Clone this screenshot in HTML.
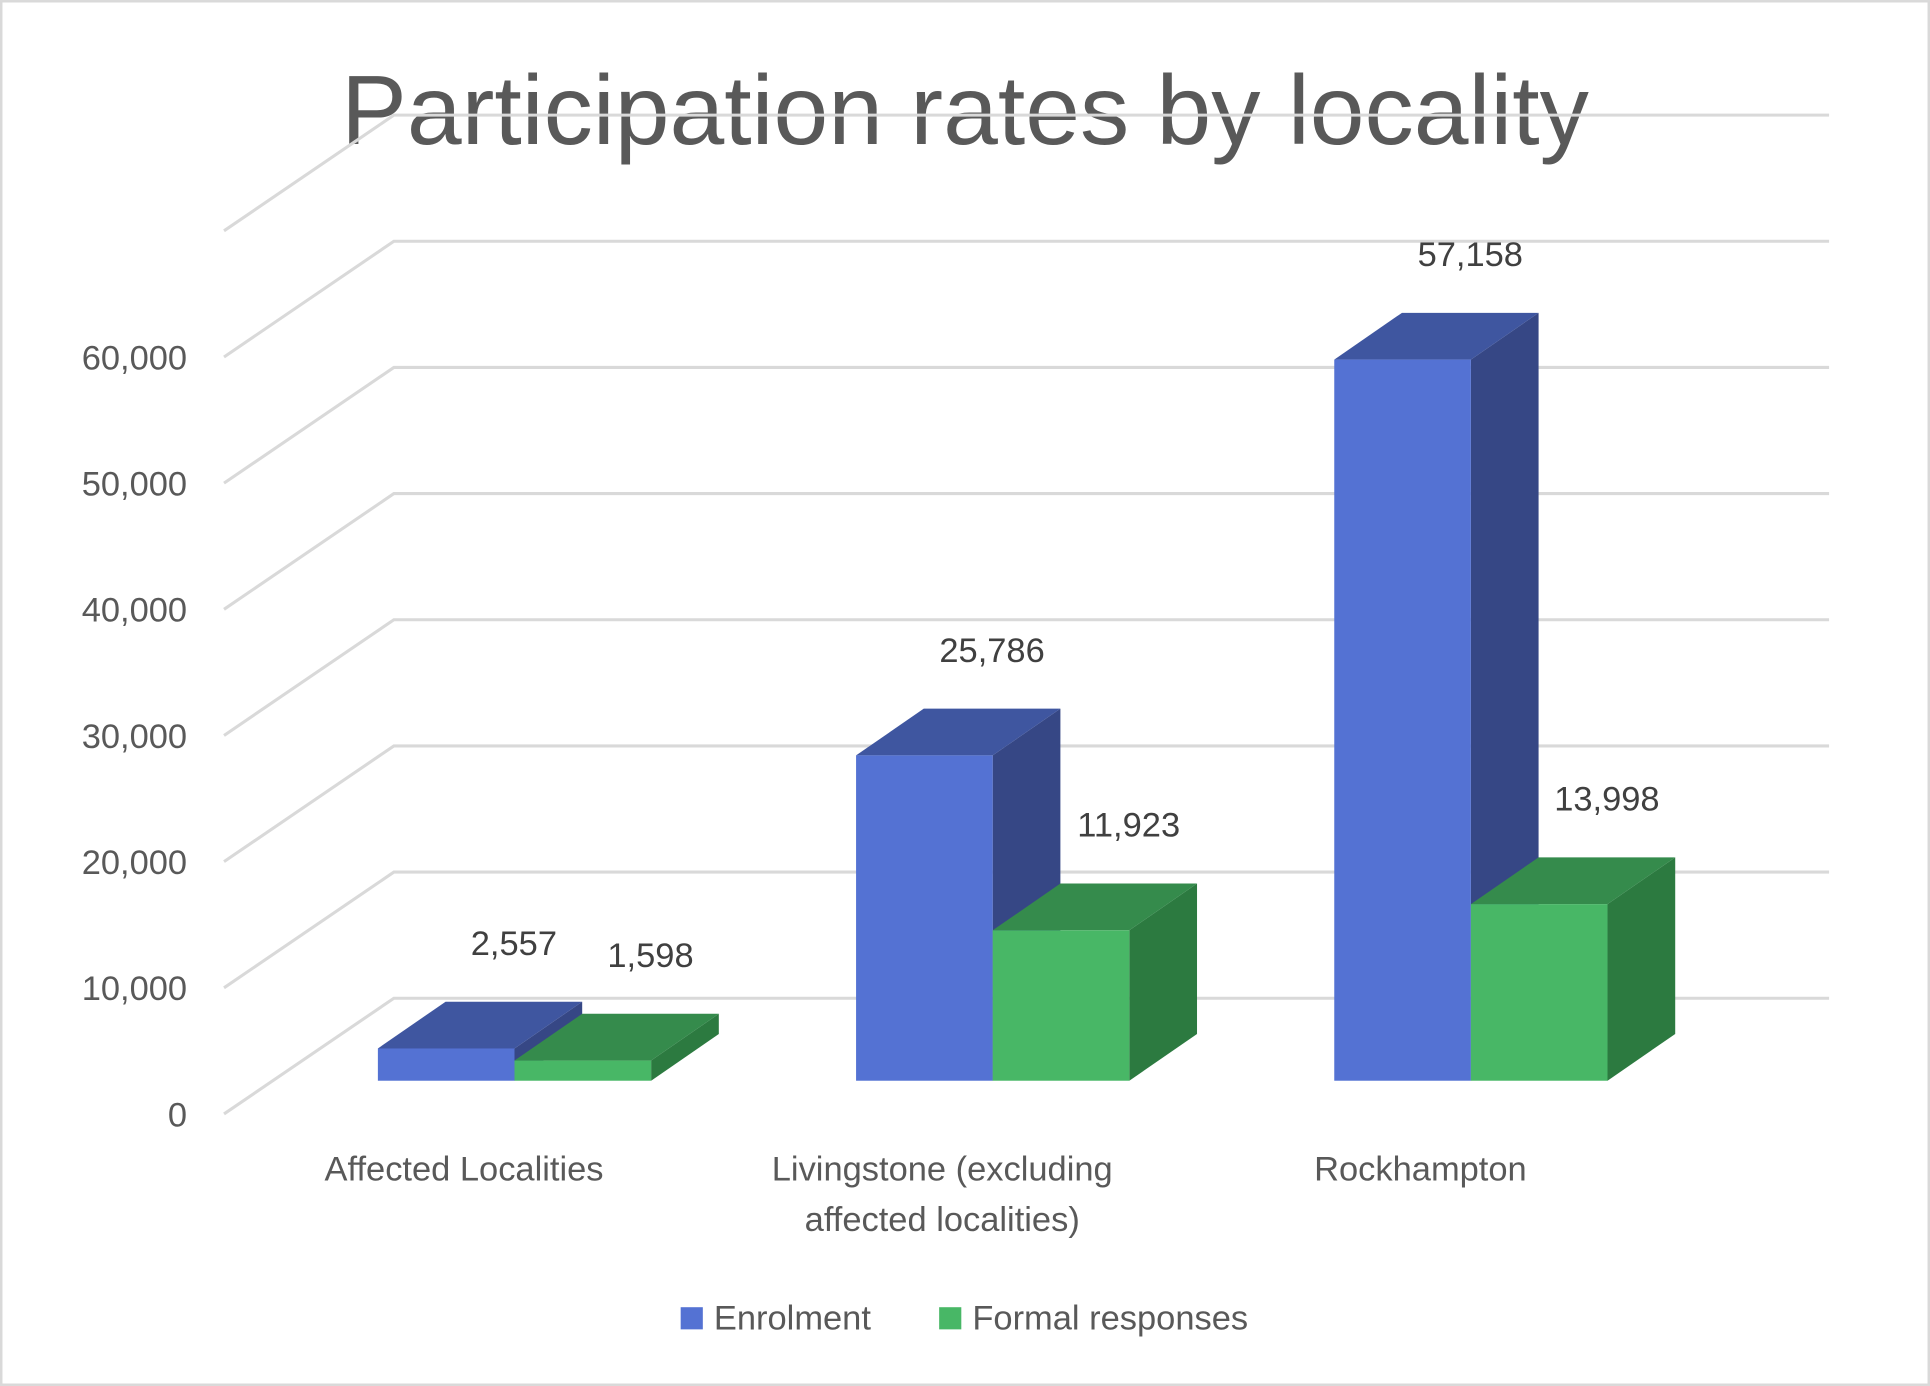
<!DOCTYPE html>
<html><head><meta charset="utf-8"><style>
html,body{margin:0;padding:0;background:#fff;}
svg{display:block;font-family:"Liberation Sans",sans-serif;}
</style></head><body>
<svg id="chart" width="1930" height="1386" viewBox="0 0 1568 1126" xmlns="http://www.w3.org/2000/svg">
<rect x="1" y="1" width="1566" height="1124" fill="#fff" stroke="#d9d9d9" stroke-width="2"/>
<text x="784" y="117" text-anchor="middle" font-size="80" fill="#595959">Participation rates by locality</text>
<g id="grid"></g><g id="bars"></g><g id="labels"></g>
<g>
<rect x="553" y="1062" width="18" height="18" fill="#5472D3"/>
<text x="580" y="1080" font-size="28" fill="#595959">Enrolment</text>
<rect x="763" y="1062" width="18" height="18" fill="#48B766"/>
<text x="790" y="1080" font-size="28" fill="#595959">Formal responses</text>
</g>
</svg>
<script>
const categories = [["Affected Localities"], ["Livingstone (excluding","affected localities)"], ["Rockhampton"]];
const enrolment = [2557, 25786, 57158];
const formal = [1598, 11923, 13998];
const yTicks = [0, 10000, 20000, 30000, 40000, 50000, 60000];
const yTickLabels = ["0","10,000","20,000","30,000","40,000","50,000","60,000"];

const NS="http://www.w3.org/2000/svg";
function mk(tag, attrs, parent){const e=document.createElementNS(NS,tag);for(const k in attrs)e.setAttribute(k,attrs[k]);parent.appendChild(e);return e;}
const grid=document.getElementById('grid'), bars=document.getElementById('bars'), labels=document.getElementById('labels');
const PX=10.25/1000;
const frontY0=905, backY0=811, backDX=138, backDY=-94;
function yFront(v){return frontY0 - v*PX;}
function yBar(v){return 878 - v*PX;}
const catX0=418, catStep=388.5, barW=111, dDX=55, dDY=-38;
function xCat(i){return catX0 + i*catStep;}

// grid
yTicks.concat([70000]).forEach((t,i)=>{
  if(t>60000) return;
  const yf=yFront(t), yb=backY0 - t*PX;
  const p=mk('polyline',{points:`182,${yf} 320,${yb} 1486,${yb}`,fill:'none',stroke:'#d9d9d9','stroke-width':2.5},grid);
  
  
});
// top gridline (70,000 unlabeled)
{const t=70000;const yf=yFront(t), yb=backY0-t*PX;
 const p=mk('polyline',{points:`182,${yf} 320,${yb} 1486,${yb}`,fill:'none',stroke:'#d9d9d9','stroke-width':2.5},grid);
 
 }
yTicks.forEach((t,i)=>{
  const tx=mk('text',{x:152,y:yFront(t)+10,'text-anchor':'end','font-size':28,fill:'#595959'},labels);
  tx.textContent=yTickLabels[i];
  
  
});

function bar(x, v, cols, name){
  const top=yBar(v), bot=878;
  const g=mk('g',{},bars);
  
  
  mk('polygon',{points:`${x+barW},${top} ${x+barW+dDX},${top+dDY} ${x+barW+dDX},${bot+dDY} ${x+barW},${bot}`,fill:cols[2]},g);
  mk('polygon',{points:`${x},${top} ${x+dDX},${top+dDY} ${x+barW+dDX},${top+dDY} ${x+barW},${top}`,fill:cols[1]},g);
  mk('rect',{x:x,y:top,width:barW,height:bot-top,fill:cols[0]},g);
  const tx=mk('text',{x:x+barW/2+dDX,y:top+dDY-38,'text-anchor':'middle','font-size':28,fill:'#404040'},labels);
  tx.textContent=v.toLocaleString('en-US');
  
  
}
const blue=['#5472D3','#3F56A0','#364785'], green=['#48B766','#358B4C','#2C7A40'];
categories.forEach((c,i)=>{
  const cx=xCat(i);
  bar(cx-barW, enrolment[i], blue, 'bar-enrolment-'+i);
  bar(cx, formal[i], green, 'bar-formal-'+i);
  c.forEach((line,j)=>{
    const tx=mk('text',{x:cx-41,y:959+j*41,'text-anchor':'middle','font-size':28,fill:'#595959'},labels);
    tx.textContent=line;
    
    
  });
});
</script>
</body></html>
